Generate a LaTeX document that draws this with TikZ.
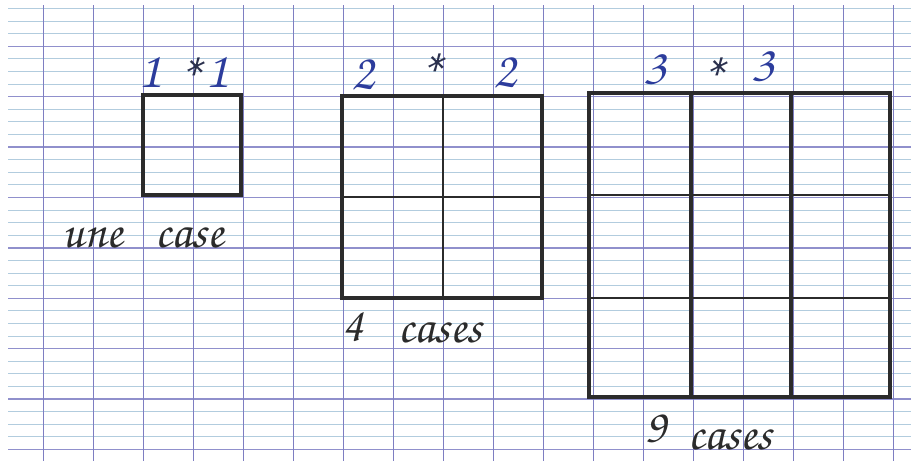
\documentclass[tikz,border=0pt]{standalone}
\usepackage{fontspec}
\newfontfamily\hand{TeX Gyre Chorus}
\definecolor{minorblue}{HTML}{B2CCDE}
\definecolor{majorblue}{HTML}{9090CC}
\definecolor{vertblue}{HTML}{7E7EC2}
\definecolor{ink}{HTML}{2B2B2B}
\definecolor{blueink}{HTML}{2C3C9C}
\begin{document}
\begin{tikzpicture}[x=0.5pt,y=-0.5pt,
  minorline/.style={draw=minorblue,line width=0.5pt},
  majorline/.style={draw=majorblue,line width=0.75pt},
  vertline/.style={draw=vertblue,line width=0.45pt},
  boxline/.style={draw=ink,line width=1.7pt,line cap=round},
  innerline/.style={draw=ink,line width=1.1pt},
  digit/.style={text=blueink,font=\hand\fontsize{26}{26}\selectfont,inner sep=0pt},
  star/.style={text=ink!70!blueink,font=\hand\fontsize{30}{30}\selectfont,inner sep=0pt},
  words/.style={text=ink,font=\hand\fontsize{24}{24}\selectfont,inner sep=0pt}]
\useasboundingbox (0,0) rectangle (911,461);
\fill[white] (0,0) rectangle (911,461);
% horizontal ruling
\foreach \k in {0,...,35} {
  \draw[minorline] (8,{8.5+12.6*\k}) -- (911,{8.5+12.6*\k});
}
\foreach \k in {3,7,...,35} {
  \draw[majorline] (8,{8.5+12.6*\k}) -- (911,{8.5+12.6*\k});
}
% vertical ruling
\foreach \k in {0,...,17} {
  \draw[vertline] ({43+50*\k},5) -- ({43+50*\k},461);
}
% 1 x 1
\draw[boxline] (143,95) rectangle (241,195);
% 2 x 2
\draw[boxline] (342,96) rectangle (542,298);
\draw[innerline] (443,96) -- (443,298);
\draw[innerline] (342,197) -- (542,197);
% 3 x 3
\draw[boxline] (589,93) rectangle (890,397);
\draw[boxline] (691,93) -- (691,397);
\draw[boxline] (791,93) -- (791,397);
\draw[innerline] (589,195) -- (890,195);
\draw[innerline] (589,298) -- (890,298);
% labels
\node[digit] (a1) at (150,72) {1};
\node[star] (as) at (187,78) {*};
\node[digit] (a2) at (217,72) {1};
\node[digit] (b1) at (363,75) {2};
\node[star] (bs) at (428,74) {*};
\node[digit] (b2) at (505,73) {2};
\node[digit] (c1) at (655,70) {3};
\node[star] (cs) at (710,78) {*};
\node[digit] (c2) at (763,67) {3};
\node[words,anchor=base west] (t1) at (62,247) {une};
\node[words,anchor=base west] (t2) at (155,247) {case};
\node[words,anchor=base west] (t3) at (342,340) {4};
\node[words,anchor=base west] (t4) at (398,342) {cases};
\node[words,anchor=base west] (t5) at (645,442) {9};
\node[words,anchor=base west] (t6) at (688,449) {cases};
\end{tikzpicture}
\end{document}
